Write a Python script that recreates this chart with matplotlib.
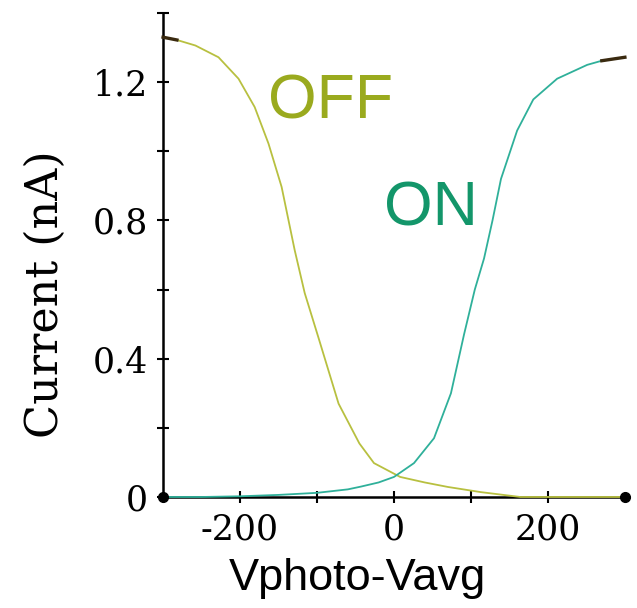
import matplotlib.pyplot as plt

# data
off_x = [-300, -282, -258, -228, -202, -181, -163, -146, -129, -116, -98, -72, -45, -26, 8, 40, 70, 113, 164, 200, 250, 300]
off_y = [1.33, 1.322, 1.306, 1.272, 1.21, 1.128, 1.022, 0.897, 0.714, 0.59, 0.46, 0.27, 0.155, 0.098, 0.058, 0.042, 0.029, 0.014, 0.0, 0.0, 0.0, 0.0]

on_x = [-300, -250, -200, -150, -100, -60, -43, -20, 0, 26, 52, 74, 91, 105, 117, 128, 139, 160, 181, 212, 251, 270, 294, 300]
on_y = [0.0, 0.0, 0.002, 0.006, 0.012, 0.022, 0.03, 0.042, 0.058, 0.098, 0.17, 0.30, 0.47, 0.60, 0.69, 0.80, 0.92, 1.06, 1.15, 1.21, 1.25, 1.262, 1.27, 1.272]

xticks = [-200, -100, 0, 100, 200]
xticklabels = ["-200", "", "0", "", "200"]
yticks = [0, 0.2, 0.4, 0.6, 0.8, 1.0, 1.2, 1.4]
yticklabels = ["0", "", "0.4", "", "0.8", "", "1.2", ""]

off_color = "#b8c040"
on_color = "#2fb09a"

fig = plt.figure(figsize=(6.37, 6.08), dpi=100)
ax = fig.add_axes([0.256, 0.1826, 0.725, 0.796])

ax.plot(off_x, off_y, color=off_color, lw=1.3, clip_on=False, zorder=3)
ax.plot(on_x, on_y, color=on_color, lw=1.3, clip_on=False, zorder=3)
# dark bits at the curve ends
ax.plot(off_x[:2], off_y[:2], color="#3a2a10", lw=2.4, clip_on=False, zorder=4)
ax.plot(on_x[-3:], on_y[-3:], color="#3a2a10", lw=2.4, clip_on=False, zorder=4)

ax.set_xlim(-300, 300)
ax.set_ylim(0, 1.4)
ax.plot([-300, 300], [0, 0], "o", color="black", ms=7, clip_on=False, zorder=5)

for s in ["top", "right"]:
    ax.spines[s].set_visible(False)
for s in ["left", "bottom"]:
    ax.spines[s].set_linewidth(1.8)

ax.set_xticks(xticks)
ax.set_xticklabels(xticklabels, fontfamily="DejaVu Serif", fontsize=25)
ax.set_yticks(yticks)
ax.set_yticklabels(yticklabels, fontfamily="DejaVu Serif", fontsize=25)
ax.tick_params(direction="inout", length=8, width=1.5, pad=7)

ax.text(-83, 1.095, "OFF", color="#9aaa1e", fontsize=45, fontfamily="Liberation Sans",
        ha="center", va="baseline")
ax.text(48, 0.786, "ON", color="#13966a", fontsize=45, fontfamily="Liberation Sans",
        ha="center", va="baseline")

fig.text(357 / 637, 18 / 608, "Vphoto-Vavg", fontsize=32.5, fontfamily="Liberation Sans",
         ha="center", va="baseline")
fig.text(45 / 637, 1 - 294 / 608, "Current (nA)", fontsize=32, fontfamily="DejaVu Serif",
         rotation=90, ha="center", va="center")

fig.savefig("out.png", dpi=100, facecolor="white")
